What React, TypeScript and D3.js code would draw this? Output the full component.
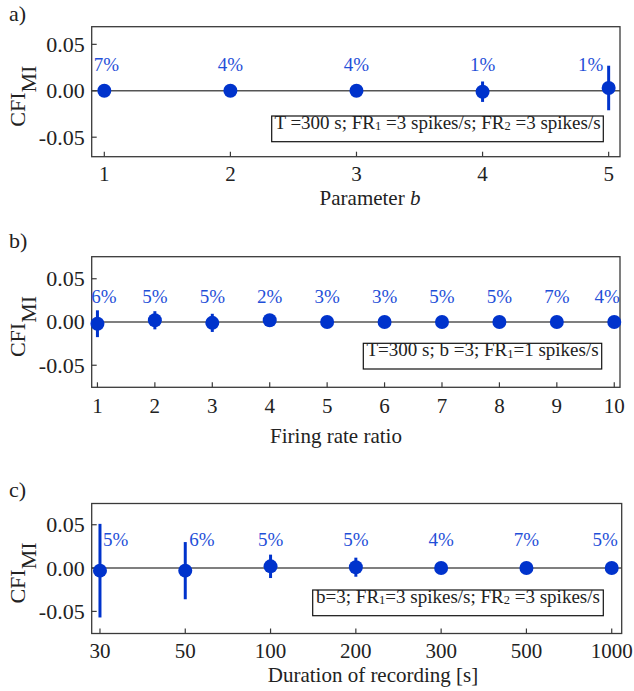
import React from "react";
import * as d3 from "d3";

// ---------- data ----------
const paramB = [1, 2, 3, 4, 5];
const paramBValues = [0, 0, 0, -0.001, 0.003];
const paramBErrors = [0, 0, 0, 0.011, 0.024];
const paramBPct = ["7%", "4%", "4%", "1%", "1%"];

const rateRatio = [1, 2, 3, 4, 5, 6, 7, 8, 9, 10];
const rateValues = [-0.002, 0.002, -0.001, 0.002, 0, 0, 0, 0, 0, 0];
const rateErrors = [0.0155, 0.0105, 0.0105, 0.007, 0, 0, 0, 0, 0, 0];
const ratePct = ["6%", "5%", "5%", "2%", "3%", "3%", "5%", "5%", "7%", "4%"];

const durations = ["30", "50", "100", "200", "300", "500", "1000"];
const durValues = [-0.003, -0.003, 0.002, 0.001, 0, 0, 0];
const durErrors = [0.054, 0.033, 0.0135, 0.011, 0, 0, 0];
const durPct = ["5%", "6%", "5%", "5%", "4%", "7%", "5%"];

const yTicks = [-0.05, 0, 0.05];
const yTickLabels = ["-0.05", "0.00", "0.05"];

// ---------- style ----------
const FONT = "'Liberation Serif', 'Times New Roman', serif";
const MARK = "#0033cc";
const PCT = "#1f4fd8";
const AXIS = "#3a3a3a";
const LEFT = 91.7;

type Part = [string, boolean];

interface PanelCfg {
  letter: string;
  top: number;
  bottom: number;
  right: number;
  xDomain: [number, number];
  yDomain: [number, number];
  xs: number[];
  tickLabels: string[];
  values: number[];
  errors: number[];
  pct: string[];
  pctLevel: number;
  pctDx: number[];
  pctAnchor: string[];
  note: Part[];
  noteBox: [number, number, number, number];
  xLabel: React.ReactNode;
  xLabelX: number;
  tickGap: number;
  xLabelGap: number;
  letterY: number;
}

const panels: PanelCfg[] = [
  {
    letter: "a)",
    top: 26.7,
    bottom: 156.7,
    right: 620,
    xDomain: [0.9, 5.09],
    yDomain: [-0.071, 0.069],
    xs: paramB,
    tickLabels: paramB.map(String),
    values: paramBValues,
    errors: paramBErrors,
    pct: paramBPct,
    pctLevel: 0.0215,
    pctDx: [2, 0, 0, 0, -18],
    pctAnchor: ["middle", "middle", "middle", "middle", "middle"],
    note: [["T =300 s; FR", false], ["1", true], [" =3 spikes/s; FR", false], ["2", true], [" =3 spikes/s", false]],
    noteBox: [271.7, 116, 603.3, 141.7],
    xLabel: (
      <>
        Parameter <tspan fontStyle="italic">b</tspan>
      </>
    ),
    xLabelX: 370,
    tickGap: 24.5,
    xLabelGap: 48,
    letterY: 21,
  },
  {
    letter: "b)",
    top: 256.7,
    bottom: 387.3,
    right: 620,
    xDomain: [0.9, 10.1],
    yDomain: [-0.0755, 0.0755],
    xs: rateRatio,
    tickLabels: rateRatio.map(String),
    values: rateValues,
    errors: rateErrors,
    pct: ratePct,
    pctLevel: 0.0225,
    pctDx: [6.5, 0, 0, 0, 0, 0, 0, 0, 0, -7],
    pctAnchor: rateRatio.map(() => "middle"),
    note: [["T=300 s; b =3; FR", false], ["1", true], ["=1 spikes/s", false]],
    noteBox: [363.3, 343.3, 601.7, 369],
    xLabel: <>Firing rate ratio</>,
    xLabelX: 336,
    tickGap: 26,
    xLabelGap: 55.5,
    letterY: 248,
  },
  {
    letter: "c)",
    top: 503.5,
    bottom: 633.5,
    right: 621.7,
    xDomain: [0.903, 7.117],
    yDomain: [-0.0755, 0.0745],
    xs: durations.map((_, i) => i + 1),
    tickLabels: durations,
    values: durValues,
    errors: durErrors,
    pct: durPct,
    pctLevel: 0.0255,
    pctDx: [3, 4, 0, 0, 0, 0, -6.5],
    pctAnchor: ["start", "start", "middle", "middle", "middle", "middle", "middle"],
    note: [["b=3; FR", false], ["1", true], ["=3 spikes/s; FR", false], ["2", true], [" =3 spikes/s", false]],
    noteBox: [312.7, 590, 603.3, 615.7],
    xLabel: <>Duration of recording [s]</>,
    xLabelX: 373,
    tickGap: 24.5,
    xLabelGap: 48,
    letterY: 497,
  },
];

function Panel({ cfg }: { cfg: PanelCfg }) {
  const x = d3.scaleLinear().domain(cfg.xDomain).range([LEFT, cfg.right]);
  const y = d3.scaleLinear().domain(cfg.yDomain).range([cfg.bottom, cfg.top]);
  const [bx0, by0, bx1, by1] = cfg.noteBox;
  const midY = (cfg.top + cfg.bottom) / 2;
  return (
    <g>
      <text x={9} y={cfg.letterY} fontSize={22} fontFamily={FONT} fill="#222">
        {cfg.letter}
      </text>
      {/* y label */}
      <text
        transform={`translate(25,${midY + 4.5}) rotate(-90)`}
        textAnchor="middle"
        fontSize={22}
        fontFamily={FONT}
        fill="#222"
      >
        CFI
        <tspan dy={11}>MI</tspan>
      </text>
      {/* zero line */}
      <line x1={LEFT} x2={cfg.right} y1={y(0)} y2={y(0)} stroke="#555" strokeWidth={1.5} />
      {/* frame */}
      <rect
        x={LEFT}
        y={cfg.top}
        width={cfg.right - LEFT}
        height={cfg.bottom - cfg.top}
        fill="none"
        stroke={AXIS}
        strokeWidth={1.3}
      />
      {/* y ticks */}
      {yTicks.map((t, i) => (
        <g key={"yt" + i}>
          <line x1={LEFT} x2={LEFT + 5} y1={y(t)} y2={y(t)} stroke={AXIS} strokeWidth={1.2} />
          <text
            x={LEFT - 7}
            y={y(t)}
            dy="0.34em"
            textAnchor="end"
            fontSize={22}
            fontFamily={FONT}
            fill="#222"
          >
            {yTickLabels[i]}
          </text>
        </g>
      ))}
      {/* x ticks */}
      {cfg.xs.map((v, i) => (
        <g key={"xt" + i}>
          <line x1={x(v)} x2={x(v)} y1={cfg.bottom} y2={cfg.bottom - 5} stroke={AXIS} strokeWidth={1.2} />
          <text
            x={x(v)}
            y={cfg.bottom + cfg.tickGap}
            textAnchor="middle"
            fontSize={21}
            fontFamily={FONT}
            fill="#222"
          >
            {cfg.tickLabels[i]}
          </text>
        </g>
      ))}
      <text
        x={cfg.xLabelX}
        y={cfg.bottom + cfg.xLabelGap}
        textAnchor="middle"
        fontSize={21}
        fontFamily={FONT}
        fill="#222"
      >
        {cfg.xLabel}
      </text>
      {/* note box */}
      <rect x={bx0} y={by0} width={bx1 - bx0} height={by1 - by0} fill="#fff" stroke="#111" strokeWidth={1.2} />
      <text
        x={(bx0 + bx1) / 2}
        y={(by0 + by1) / 2}
        dy="0.35em"
        textAnchor="middle"
        fontSize={19}
        fontFamily={FONT}
        fill="#222"
      >
        {cfg.note.map(([s, sub], i) =>
          sub ? (
            <tspan key={i} fontSize={12.5} dy={1.5}>
              {s}
            </tspan>
          ) : (
            <tspan key={i} dy={i > 0 ? -1.5 : 0}>
              {s}
            </tspan>
          )
        )}
      </text>
      {/* error bars and points */}
      {cfg.xs.map((v, i) => (
        <g key={"pt" + i}>
          {cfg.errors[i] > 0 && (
            <line
              x1={x(v)}
              x2={x(v)}
              y1={y(cfg.values[i] - cfg.errors[i])}
              y2={y(cfg.values[i] + cfg.errors[i])}
              stroke={MARK}
              strokeWidth={3}
            />
          )}
          <circle cx={x(v)} cy={y(cfg.values[i])} r={7} fill={MARK} />
          <text
            x={x(v) + cfg.pctDx[i]}
            y={y(cfg.pctLevel)}
            textAnchor={cfg.pctAnchor[i]}
            fontSize={19}
            fontFamily={FONT}
            fill={PCT}
          >
            {cfg.pct[i]}
          </text>
        </g>
      ))}
    </g>
  );
}

export default function App() {
  return (
    <svg
      width={634}
      height={691}
      style={{ position: "absolute", left: 0, top: 0, background: "#fff" }}
    >
      <rect width={634} height={691} fill="#fff" />
      {panels.map((p) => (
        <Panel key={p.letter} cfg={p} />
      ))}
    </svg>
  );
}
